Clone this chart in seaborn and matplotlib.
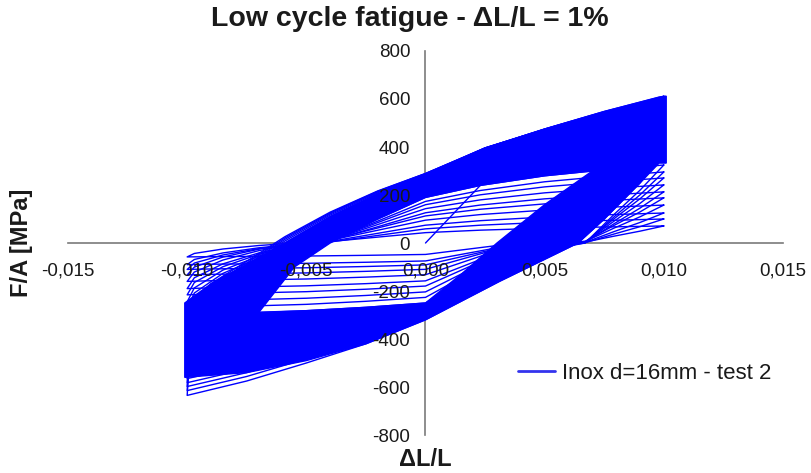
import numpy as np
import pandas as pd
import matplotlib
matplotlib.use("Agg")
import matplotlib.pyplot as plt
import seaborn as sns
from matplotlib.lines import Line2D
from matplotlib.ticker import FuncFormatter

# ---- data ----
# largest (last) cycle: loading branch -0.01 -> +0.01
LOAD_STRAIN = [-0.0100, -0.0099, -0.0097, -0.0090, -0.0075, -0.0059, -0.0040, -0.0020, 0.0000, 0.0025, 0.0050, 0.0075, 0.0100]
LOAD_STRESS = [-635, -480, -300, -210, -110, 0, 110, 205, 283, 395, 475, 548, 612]
# largest cycle: unloading branch +0.01 -> -0.01
UNLOAD_STRAIN = [0.0100, 0.0099, 0.0097, 0.0090, 0.0075, 0.0064, 0.0031, 0.0000, -0.0025, -0.0050, -0.0075, -0.0100]
UNLOAD_STRESS = [612, 480, 340, 250, 100, 0, -160, -320, -420, -500, -575, -635]

# largest of the early (thin) cycles
EARLY_LOAD_STRAIN = [-0.0100, -0.0097, -0.0085, -0.0070, -0.0055, -0.0040, -0.0020, 0.0000, 0.0023, 0.0050, 0.0070, 0.0100]
EARLY_LOAD_STRESS = [-300, -230, -140, -70, -20, 10, 100, 190, 240, 280, 300, 325]
EARLY_UNLOAD_STRAIN = [0.0100, 0.0090, 0.0079, 0.0067, 0.0045, 0.0030, 0.0000, -0.0025, -0.0050, -0.0075, -0.0090, -0.0100]
EARLY_UNLOAD_STRESS = [325, 220, 118, 0, -40, -70, -250, -268, -282, -290, -295, -300]

# first loading from the origin
INITIAL_STRAIN = [0.0, 0.0023]
INITIAL_STRESS = [0, 240]

# stress at +0.01 and at -0.01 of the early cycles
EARLY_PEAK = [325, 296, 271, 242, 213, 188, 158, 125, 100, 71]
EARLY_VALLEY = [-300, -272, -245, -216, -190, -160, -133, -110, -90, -58]
# last, largest cycles, visible as separate lines
LAST_PEAK = [596, 602, 606, 609, 612]
LAST_VALLEY = [-565, -582, -598, -615, -635]

# outline of the saturated (solid) band of cycles
BAND_STRAIN = [-0.0101, -0.0090, -0.0075, -0.0059, -0.0040, -0.0020, 0.0000, 0.0025, 0.0050, 0.0075,
               0.0098, 0.0101, 0.0101, 0.0098, 0.0090, 0.0075, 0.0064, 0.0031, 0.0000, -0.0025,
               -0.0050, -0.0075, -0.0095, -0.0101]
BAND_STRESS = [-250, -170, -90, 0, 110, 205, 283, 395, 475, 548,
               608, 612, 333, 333, 250, 100, 0, -160, -320, -420,
               -490, -540, -555, -560]
# outline of the open "eye" inside the band
EYE_STRAIN = [-0.0070, -0.0055, -0.0040, -0.0020, 0.0000, 0.0023, 0.0050, 0.0070,
              0.0050, 0.0030, 0.0015, 0.0000, -0.0025, -0.0050]
EYE_STRESS = [-290, -100, 0, 100, 190, 240, 280, 300,
              160, 0, -130, -250, -268, -282]

X_TICKS = [-0.015, -0.010, -0.005, 0.000, 0.005, 0.010, 0.015]
Y_TICKS = [-800, -600, -400, -200, 0, 200, 400, 600, 800]

TITLE = "Low cycle fatigue - \u0394L/L = 1%"
X_LABEL = "\u0394L/L"
Y_LABEL = "F/A [MPa]"
SERIES = "Inox d=16mm - test 2"


def frac(vals):
    v = np.asarray(vals, dtype=float)
    return np.abs(v - v[0]) / abs(v[-1] - v[0])


rows = [dict(strain=s, stress=v, cycle=0) for s, v in zip(INITIAL_STRAIN, INITIAL_STRESS)]
cycle = 1
for peaks, valleys, ls, lv, us, uv in [
    (EARLY_PEAK, EARLY_VALLEY, EARLY_LOAD_STRAIN, EARLY_LOAD_STRESS, EARLY_UNLOAD_STRAIN, EARLY_UNLOAD_STRESS),
    (LAST_PEAK, LAST_VALLEY, LOAD_STRAIN, LOAD_STRESS, UNLOAD_STRAIN, UNLOAD_STRESS),
]:
    lf, uf = frac(lv), frac(uv)
    for p, t in zip(peaks, valleys):
        for s, f in zip(us, uf):
            rows.append(dict(strain=s, stress=p - (p - t) * f, cycle=cycle))
        for s, f in zip(ls[1:], lf[1:]):
            rows.append(dict(strain=s, stress=t + (p - t) * f, cycle=cycle))
        cycle += 1
df = pd.DataFrame(rows)

# ---- style ----
sns.set_style("white")
plt.rcParams["font.family"] = ["Liberation Sans", "DejaVu Sans"]
TXT = "#1a1a1a"
BLUE = "#0000FF"

fig = plt.figure(figsize=(8.12, 4.73), dpi=100)
ax = fig.add_axes([68 / 812, 1 - 435 / 473, (783 - 68) / 812, (435 - 51) / 473])

ax.fill(BAND_STRAIN, BAND_STRESS, color=BLUE, lw=1.0, zorder=2)
ax.fill(EYE_STRAIN, EYE_STRESS, facecolor="white", edgecolor=BLUE, lw=1.0, zorder=2.1)
sns.lineplot(data=df, x="strain", y="stress", units="cycle", estimator=None, sort=False,
             color=BLUE, lw=1.0, ax=ax, legend=False, zorder=2.2)

ax.set_xlim(-0.015, 0.015)
ax.set_ylim(-800, 800)
ax.set_xticks(X_TICKS)
ax.set_yticks(Y_TICKS)
ax.xaxis.set_major_formatter(FuncFormatter(lambda v, _: f"{v:.3f}".replace(".", ",").replace("-0,000", "0,000")))
ax.yaxis.set_major_formatter(FuncFormatter(lambda v, _: f"{v:.0f}"))
ax.set_xlabel("")
ax.set_ylabel("")

for side in ["top", "right"]:
    ax.spines[side].set_visible(False)
ax.spines["left"].set_position(("data", 0))
ax.spines["bottom"].set_position(("data", 0))
for side in ["left", "bottom"]:
    ax.spines[side].set_color("#7a7a7a")
    ax.spines[side].set_linewidth(1.2)
    ax.spines[side].set_zorder(1)

ax.tick_params(axis="both", direction="out", length=5, width=1.2, color="#7a7a7a",
               labelsize=13.5, labelcolor=TXT)
ax.tick_params(axis="x", pad=9)
ax.tick_params(axis="y", pad=6)
ax.xaxis.set_zorder(3)
ax.yaxis.set_zorder(3)
ax.grid(False)

fig.text(0.505, 0.960, TITLE, ha="center", va="center", fontsize=20.5, fontweight="bold", color=TXT)
fig.text(0.524, 0.028, X_LABEL, ha="center", va="center", fontsize=17, fontweight="bold", color=TXT)
fig.text(0.027, 0.487, Y_LABEL, ha="center", va="center", rotation=90, fontsize=17,
         fontweight="bold", color=TXT)

handle = Line2D([], [], color="#3333EE", lw=2)
ax.legend([handle], [SERIES], loc="center left", bbox_to_anchor=(518 / 812, 1 - 373 / 473),
          bbox_transform=fig.transFigure, frameon=False, borderpad=0, borderaxespad=0,
          handlelength=1.65, handletextpad=0.35, fontsize=16, labelcolor=TXT)

fig.savefig("out.png", dpi=100)
